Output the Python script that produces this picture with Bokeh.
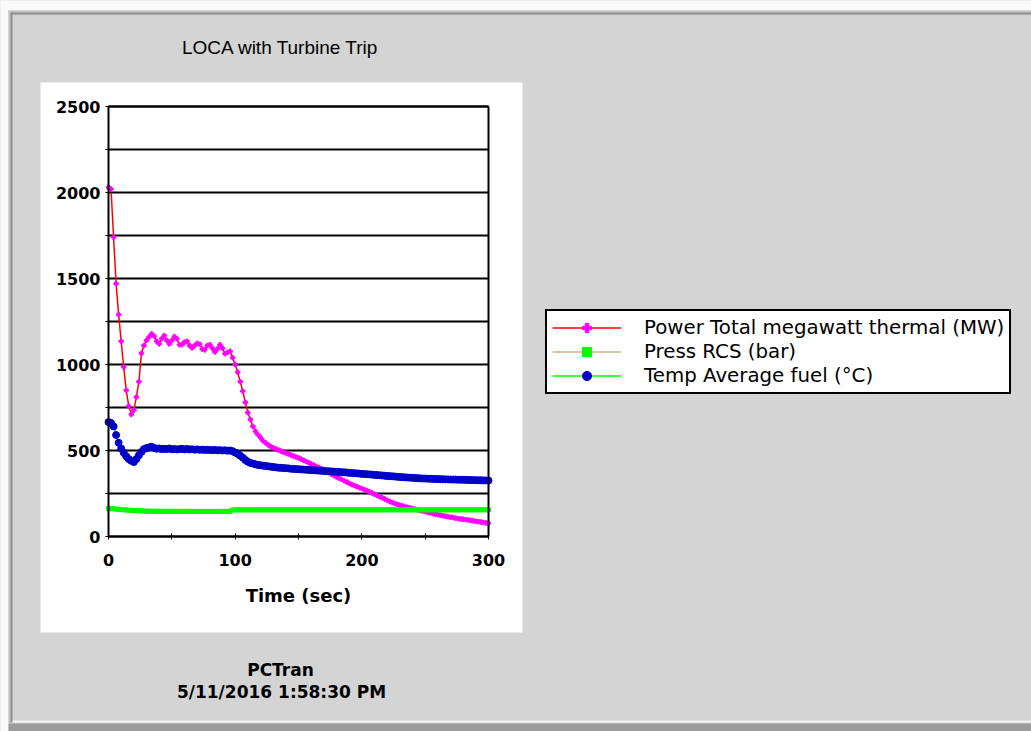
from bokeh.plotting import figure
from bokeh.models import (Range1d, FixedTicker, BoxAnnotation, Label, Legend,
                          LegendItem, ColumnDataSource, LinearAxis)
from bokeh.embed import file_html
from bokeh.resources import INLINE

# ---------------- data ----------------
time_s = list(range(0, 301, 2))

power_mw = [
    2030, 2020, 1740, 1470, 1290, 1135, 985, 850, 758, 710,
    735, 810, 900, 1065, 1110, 1140, 1160, 1178, 1165, 1135,
    1120, 1150, 1168, 1140, 1120, 1140, 1162, 1150, 1115, 1115,
    1130, 1135, 1110, 1097, 1110, 1123, 1118, 1090, 1085, 1110,
    1115, 1095, 1073, 1090, 1115, 1095, 1063, 1070, 1077, 1040,
    1000, 955, 900, 845, 780, 720, 680, 640, 612, 592,
    575, 556, 545, 533, 523, 516, 509, 503, 497, 491,
    486, 480, 474, 468, 462, 457, 450, 443, 436, 429,
    421, 415, 408, 401, 395, 388, 380, 372, 363, 354,
    346, 339, 332, 324, 317, 310, 302, 296, 290, 284,
    279, 273, 267, 260, 253, 246, 239, 231, 225, 218,
    211, 204, 197, 192, 187, 182, 178, 174, 170, 166,
    162, 159, 155, 151, 148, 145, 141, 138, 133, 130,
    127, 124, 121, 118, 115, 112, 110, 107, 104, 102,
    100, 98, 96, 93, 91, 88, 86, 84, 81, 79,
    77,
]

press_bar = [
    162, 162, 161, 159, 157, 156, 155, 154, 153, 152,
    151, 150, 150, 149, 148, 148, 147, 147, 147, 146,
    147, 146, 146, 147, 146, 146, 146, 147, 146, 146,
    146, 146, 147, 146, 146, 146, 146, 146, 146, 146,
    146, 146, 146, 146, 146, 146, 146, 146, 147, 154,
    155, 155, 155, 155, 155, 155, 155, 155, 155, 155,
    155, 155, 155, 155, 155, 155, 155, 155, 155, 155,
    155, 155, 155, 155, 155, 155, 155, 155, 155, 155,
    155, 155, 155, 155, 155, 155, 155, 155, 155, 155,
    155, 155, 155, 155, 155, 155, 155, 155, 155, 155,
    155, 155, 155, 155, 155, 155, 155, 155, 155, 155,
    155, 155, 155, 155, 155, 155, 155, 155, 155, 155,
    155, 155, 155, 155, 155, 155, 155, 155, 155, 155,
    155, 155, 155, 155, 155, 155, 155, 155, 155, 155,
    155, 155, 155, 155, 155, 155, 155, 155, 155, 155,
    155,
]

temp_fuel_c = [
    665, 660, 640, 590, 545, 512, 488, 466, 450, 440,
    433, 450, 472, 492, 508, 514, 518, 522, 515, 510,
    512, 508, 510, 508, 512, 507, 509, 506, 508, 510,
    506, 509, 506, 507, 505, 506, 504, 505, 503, 504,
    503, 502, 503, 501, 502, 500, 501, 499, 500, 496,
    488, 480, 470, 458, 445, 435, 428, 424, 420, 416,
    414, 412, 410, 408, 406, 404, 402, 400, 399, 398,
    397, 396, 394, 393, 392, 391, 390, 389, 388, 387,
    386, 385, 384, 383, 382, 381, 380, 379, 378, 377,
    376, 375, 374, 373, 372, 370, 369, 368, 367, 366,
    364, 363, 362, 361, 360, 358, 357, 356, 355, 353,
    352, 351, 350, 349, 347, 346, 345, 344, 343, 342,
    341, 340, 339, 338, 337, 337, 336, 336, 335, 334,
    334, 333, 333, 332, 332, 331, 331, 331, 330, 330,
    330, 329, 329, 328, 328, 327, 327, 327, 326, 326,
    325,
]

series_names = ["Power Total megawatt thermal (MW)", "Press RCS (bar)",
                "Temp Average fuel (\u00b0C)"]
x_lo, x_hi = 0, 300
y_lo, y_hi = 0, 2500
x_ticks = [0, 100, 200, 300]
x_minor_ticks = [50, 150, 250]
y_ticks = [0, 500, 1000, 1500, 2000, 2500]
y_minor_ticks = [250, 750, 1250, 1750, 2250]
title_text = "LOCA with Turbine Trip"
footer_1 = "PCTran"
footer_2 = "5/11/2016 1:58:30 PM"
x_label = "Time (sec)"

# ---------------- layout ----------------
W, H = 1031, 731
PL, PR, PT, PB = 108, 488, 106, 536     # data area in canvas pixels
GRAY = "#d4d4d4"

# the frame fills the whole canvas; ranges are widened so the data area
# lands on the pixels above
sx = (PR - PL) / (x_hi - x_lo)
sy = (PB - PT) / (y_hi - y_lo)
xr = Range1d(x_lo - PL / sx, x_lo + (W - PL) / sx)
yr = Range1d(y_lo - (H - PB) / sy, y_lo + PB / sy)

p = figure(width=W, height=H, output_backend="svg", toolbar_location=None,
           x_range=xr, y_range=yr, min_border=0,
           background_fill_color=GRAY, border_fill_color=GRAY)
p.outline_line_color = None


def cbox(x0, y0, x1, y1, color):
    return BoxAnnotation(left=x0, right=x1, top=H - y0, bottom=H - y1,
                         left_units="screen", right_units="screen",
                         top_units="screen", bottom_units="screen",
                         fill_color=color, fill_alpha=1.0, line_color=None,
                         level="image")


# window frame and white chart panel
for b in [
    cbox(0, 0, W, 10, "#fafafa"),
    cbox(0, 0, 8, H, "#fafafa"),
    cbox(8, 10, W, 12, "#c4c4c4"),
    cbox(10, 12, W, 14, "#8c8c8c"),
    cbox(8, 10, 10, 722, "#c4c4c4"),
    cbox(10, 12, 12, 722, "#8c8c8c"),
    cbox(12, 720, W, 722, "#f4f4f4"),
    cbox(8, 723, W, 731, "#9c9c9c"),
    cbox(40, 82, 522, 632, "white"),
]:
    p.add_layout(b)

src = ColumnDataSource(dict(t=time_s, power=power_mw, press=press_bar, temp=temp_fuel_c))

l1 = p.line("t", "power", source=src, line_color="#ff0000", line_width=1.5)
s1 = p.scatter("t", "power", source=src, marker="plus", size=4.5,
               fill_color="#ff00ff", line_color="#ff00ff")
l2 = p.line("t", "press", source=src, line_color="#d2b48c", line_width=1.5)
s2 = p.scatter("t", "press", source=src, marker="square", size=4,
               fill_color="#00ff00", line_color="#00ff00")
l3 = p.line("t", "temp", source=src, line_color="#00ff00", line_width=1.5)
s3 = p.scatter("t", "temp", source=src, marker="circle", size=7,
               fill_color="#0000c8", line_color="#0000c8")

# axes drawn at the data origin
xax = p.xaxis[0]
yax = p.yaxis[0]
xax.fixed_location = y_lo
yax.fixed_location = x_lo
xax.bounds = (x_lo, x_hi)
yax.bounds = (y_lo, y_hi)
xax.ticker = FixedTicker(ticks=x_ticks, minor_ticks=x_minor_ticks)
yax.ticker = FixedTicker(ticks=y_ticks, minor_ticks=y_minor_ticks)
xax.axis_label = x_label
for ax in (xax, yax):
    ax.axis_line_color = "black"
    ax.axis_line_width = 2
    ax.major_tick_line_color = "black"
    ax.minor_tick_line_color = "black"
    ax.major_tick_in = 3
    ax.major_tick_out = 3
    ax.minor_tick_in = 3
    ax.minor_tick_out = 3
    ax.major_label_text_font = "DejaVu Sans"
    ax.major_label_text_font_style = "bold"
    ax.major_label_text_font_size = "16px"
    ax.major_label_text_color = "black"
yax.major_label_standoff = 5
xax.major_label_standoff = 14
xax.axis_label_text_font = "DejaVu Sans"
xax.axis_label_text_font_style = "bold"
xax.axis_label_text_font_size = "18px"
xax.axis_label_text_color = "black"
xax.axis_label_standoff = 16

# right and top borders of the data area
for loc, fixed, bnds in (("right", x_hi, (y_lo, y_hi)), ("above", y_hi, (x_lo, x_hi))):
    ax = LinearAxis(fixed_location=fixed, bounds=bnds,
                    ticker=FixedTicker(ticks=[]),
                    axis_line_color="black", axis_line_width=2,
                    major_tick_line_color=None, minor_tick_line_color=None,
                    major_label_text_font_size="0px")
    p.add_layout(ax, loc)

p.xgrid.visible = False
yg = p.ygrid[0]
yg.grid_line_color = "black"
yg.grid_line_width = 2
yg.minor_grid_line_color = "black"
yg.minor_grid_line_width = 2
if "cross_bounds" in yg.properties():
    yg.cross_bounds = (x_lo, x_hi)
else:
    yg.visible = False
    gy = y_ticks + y_minor_ticks
    p.segment(x0=[x_lo] * len(gy), x1=[x_hi] * len(gy), y0=gy, y1=gy,
              line_color="black", line_width=2, level="underlay")

# texts
p.add_layout(Label(x=280, y=H - 47, x_units="screen", y_units="screen",
                   text=title_text, text_align="center", text_baseline="middle",
                   text_font="Liberation Sans", text_font_size="19px",
                   text_color="black"))
p.add_layout(Label(x=280, y=H - 669, x_units="screen", y_units="screen",
                   text=footer_1, text_align="center", text_baseline="middle",
                   text_font="DejaVu Sans", text_font_style="bold",
                   text_font_size="17px", text_color="black"))
p.add_layout(Label(x=281, y=H - 691, x_units="screen", y_units="screen",
                   text=footer_2, text_align="center", text_baseline="middle",
                   text_font="DejaVu Sans", text_font_style="bold",
                   text_font_size="17px", text_color="black"))

legend = Legend(items=[LegendItem(label=series_names[0], renderers=[l1, s1]),
                       LegendItem(label=series_names[1], renderers=[l2, s2]),
                       LegendItem(label=series_names[2], renderers=[l3, s3])],
                location=(545, H - 394), orientation="vertical")
legend.border_line_color = "black"
legend.border_line_width = 2.5
legend.border_line_alpha = 1.0
legend.background_fill_color = "white"
legend.background_fill_alpha = 1.0
legend.padding = 5
legend.spacing = 1
legend.margin = 0
legend.glyph_width = 69
legend.glyph_height = 23
legend.label_height = 23
legend.label_standoff = 23
legend.label_text_font = "DejaVu Sans"
legend.label_text_font_size = "19.8px"
legend.label_text_color = "black"
p.add_layout(legend)

open("out.html", "w").write(file_html(p, INLINE))
